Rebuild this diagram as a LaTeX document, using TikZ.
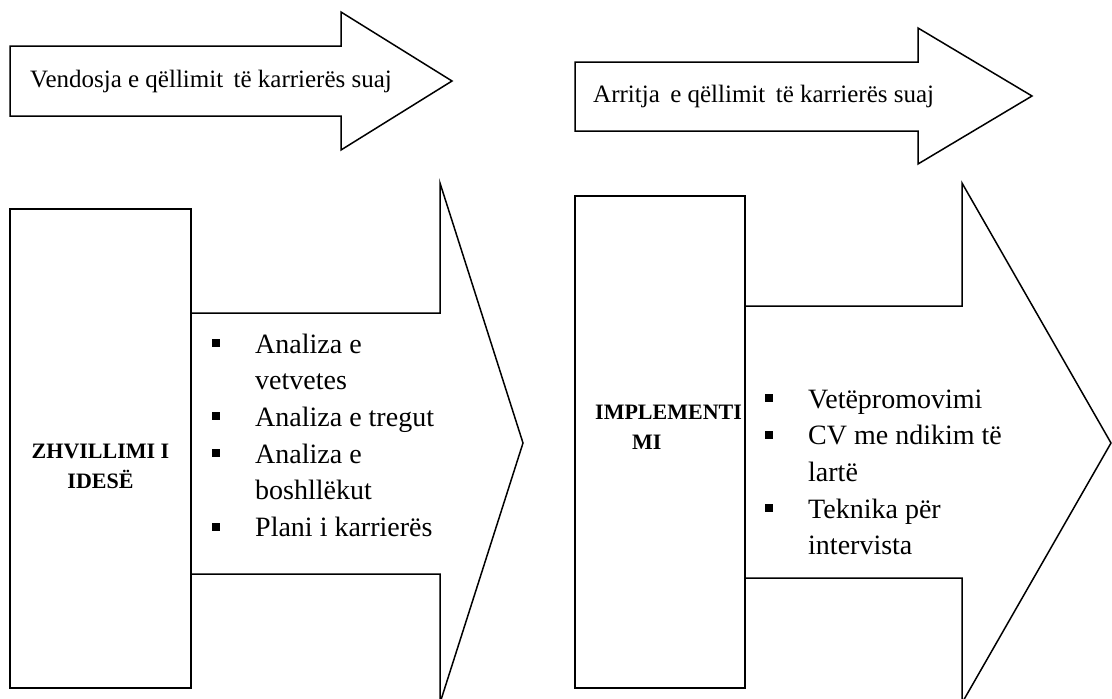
\documentclass[tikz,border=0pt]{standalone}
\usepackage{fontspec}
\setmainfont{Liberation Serif}
\usetikzlibrary{calc,positioning}
\newcommand{\sqbullet}{\raisebox{6pt}{\rule{8pt}{8pt}}}

\begin{document}
\begin{tikzpicture}[x=1pt,y=-1pt]
  \tikzset{outline/.style={draw=black,line width=1.5pt,line join=miter}};
  \tikzset{phase/.style={outline,rectangle,inner sep=0pt,fill=white}};
  \tikzset{phasetext/.style={inner sep=0pt,align=center,font=\fontsize{22}{30}\selectfont\bfseries}};
  \tikzset{banner/.style={inner sep=0pt,anchor=base west,font=\fontsize{25}{30}\selectfont}};
  \tikzset{items/.style={inner sep=0pt,anchor=base west,font=\fontsize{28}{36.7}\selectfont}};

  \useasboundingbox (0,0) rectangle (1112,699);

  \draw[outline] (10,46) -- (341,46) -- (341,12) -- (452,81) -- (341,150) -- (341,116) -- (10,116) -- cycle;
  \node[banner] (goalset) at (30,87.5) {Vendosja e qëllimit\, të karrierës suaj};

  \draw[outline] (575,62) -- (918,62) -- (918,28) -- (1032,96) -- (918,164) -- (918,131) -- (575,131) -- cycle;
  \node[banner] (goalreach) at (593,102) {Arritja\, e qëllimit\, të karrierës suaj};

  \node[phase,minimum width=181pt,minimum height=479pt] (idea) at (100.5,448.5) {};
  \node[phasetext] (idealabel) at ($(idea.center)+(0,18)$) {ZHVILLIMI I\\IDESË};
  \draw[outline] (idea.east |- 0,313) -- (440,313) -- (440,183) -- (523,443) -- (440,703) -- (440,574) -- (idea.east |- 0,574);
  \node[items] (idealist) at (212,353) {\begin{tabular}[t]{@{}l@{\hspace{35pt}}l@{}}
    \sqbullet & Analiza e\\
              & vetvetes\\
    \sqbullet & Analiza e tregut\\
    \sqbullet & Analiza e\\
              & boshllëkut\\
    \sqbullet & Plani i karrierës
  \end{tabular}};

  \node[phase,minimum width=170pt,minimum height=492pt] (impl) at (660,442) {};
  \node[phasetext,align=left,anchor=north west] (impllabel) at (595,405) {IMPLEMENTI\\\hspace*{37pt}MI};
  \draw[outline] (impl.east |- 0,306) -- (962,306) -- (962,183) -- (1111,443) -- (962,703) -- (962,578) -- (impl.east |- 0,578);
  \node[items] (impllist) at (765,408) {\begin{tabular}[t]{@{}l@{\hspace{35pt}}l@{}}
    \sqbullet & Vetëpromovimi\\
    \sqbullet & CV me ndikim të\\
              & lartë\\
    \sqbullet & Teknika për\\
              & intervista
  \end{tabular}};
\end{tikzpicture}
\end{document}
